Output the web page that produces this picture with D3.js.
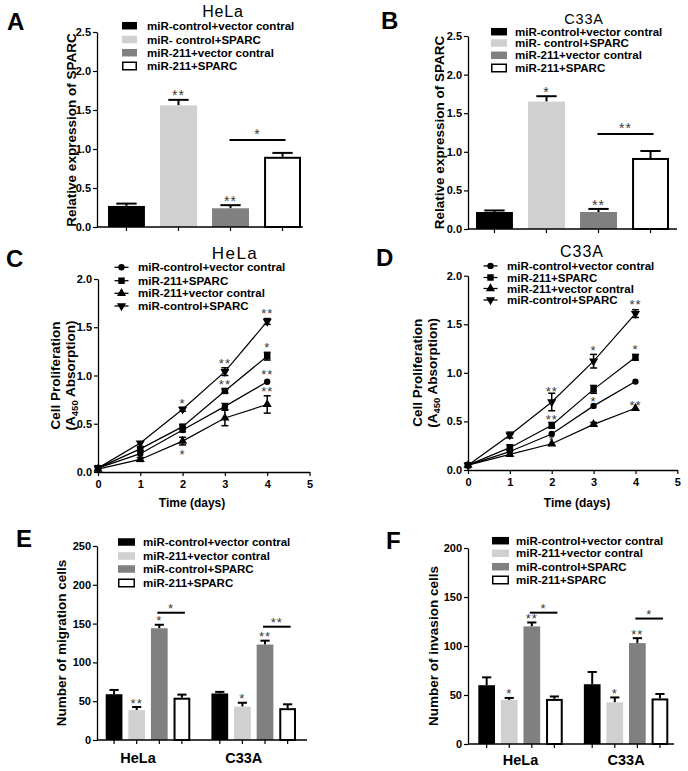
<!DOCTYPE html>
<html>
<head>
<meta charset="utf-8">
<script src="https://cdn.jsdelivr.net/npm/d3@7"></script>
<style>
  body { margin: 0; background: #fff; }
  svg text { font-family: "Liberation Sans", Arial, sans-serif; }
</style>
</head>
<body>
<svg id="fig" width="688" height="771"></svg>
<script>
// ---- data ----
// A / B : relative SPARC expression
const expLabels = ["miR-control+vector contral", "miR- control+SPARC", "miR-211+vector contral", "miR-211+SPARC"];
const helaExp = [0.27, 1.56, 0.24, 0.90];
const helaExpErr = [0.03, 0.07, 0.04, 0.05];
const helaExpStars = ["", "**", "**", ""];
const helaExpBracket = [1.115, "*"];
const c33aExp = [0.22, 1.65, 0.22, 0.92];
const c33aExpErr = [0.02, 0.07, 0.04, 0.09];
const c33aExpStars = ["", "*", "**", ""];
const c33aExpBracket = [1.23, "**"];

// C / D : proliferation curves
const days = [0, 1, 2, 3, 4];
const dayTicks = [0, 1, 2, 3, 4, 5];
const prolifLabels = ["miR-control+vector contral", "miR-211+SPARC", "miR-211+vector contral", "miR-control+SPARC"];
const helaProlif = [
  [0.04, 0.19, 0.435, 0.68, 0.935],
  [0.04, 0.24, 0.47, 0.84, 1.20],
  [0.03, 0.13, 0.32, 0.56, 0.70],
  [0.04, 0.30, 0.65, 1.04, 1.56]
];
const helaProlifErr = [
  [0.01, 0.01, 0.02, 0.03, 0.01],
  [0.01, 0.02, 0.02, 0.02, 0.04],
  [0.01, 0.02, 0.04, 0.08, 0.09],
  [0.01, 0.01, 0.02, 0.04, 0.03]
];
const helaProlifStars = [[2, 0.746, "*"], [2, 0.21, "*"], [3, 1.16, "**"], [3, 0.943, "**"],
  [4, 1.67, "**"], [4, 1.326, "*"], [4, 1.04, "**"], [4, 0.87, "**"]];
const c33aProlif = [
  [0.05, 0.19, 0.37, 0.66, 0.91],
  [0.05, 0.23, 0.46, 0.83, 1.16],
  [0.05, 0.16, 0.27, 0.47, 0.635],
  [0.05, 0.36, 0.70, 1.12, 1.61]
];
const c33aProlifErr = [
  [0.01, 0.01, 0.01, 0.01, 0.01],
  [0.01, 0.03, 0.03, 0.04, 0.03],
  [0.01, 0.01, 0.01, 0.02, 0.01],
  [0.01, 0.03, 0.09, 0.07, 0.04]
];
const c33aProlifStars = [[2, 0.84, "**"], [2, 0.55, "**"], [2, 0.33, "*"], [3, 1.26, "*"], [3, 0.74, "*"],
  [4, 1.735, "**"], [4, 1.27, "*"], [4, 0.70, "**"]];

// E / F : migration and invasion
const cellLines = ["HeLa", "C33A"];
const transLabels = ["miR-control+vector contral", "miR-211+vector contral", "miR-control+SPARC", "miR-211+SPARC"];
const migration = [[59, 38.5, 144, 54.5], [60, 43, 123, 41]];
const migrationErr = [[5.5, 4, 4.5, 4], [2, 5, 5, 5]];
const migrationStars = [["", "**", "*", ""], ["", "*", "**", ""]];
const migrationBrackets = [[164, "*"], [146, "**"]];
const invasion = [[60, 45, 120, 46], [61, 42.5, 103, 46.5]];
const invasionErr = [[8, 2, 4, 2.5], [12.5, 5, 5, 4.5]];
const invasionStars = [["", "*", "**", ""], ["", "*", "**", ""]];
const invasionBrackets = [[134, "*"], [128, "*"]];

// ---- drawing ----
const svg = d3.select("#fig");
svg.append("rect").attr("width", 688).attr("height", 771).attr("fill", "#fff");

const fills = ["#000000", "#d0d0d0", "#808080", "#ffffff"];
const STAR = "#3a3a3a";

function styleAxis(a) {
  a.select(".domain").attr("stroke", "#000").attr("stroke-width", 1.3);
  a.selectAll(".tick line").attr("stroke", "#000").attr("stroke-width", 1.2);
  a.selectAll(".tick text").attr("fill", "#000").attr("font-size", 11).attr("font-weight", "bold")
    .style("font-family", "'Liberation Sans', Arial, sans-serif");
}

function letter(t, x, y) {
  svg.append("text").attr("x", x).attr("y", y).attr("font-size", 24).attr("font-weight", "bold").text(t);
}

function title(t, x, y, size, spacing) {
  svg.append("text").attr("x", x).attr("y", y).attr("text-anchor", "middle")
    .attr("font-size", size).attr("letter-spacing", spacing).text(t);
}

function yTitle(t, x, yc) {
  svg.append("text").attr("transform", `translate(${x},${yc}) rotate(-90)`)
    .attr("text-anchor", "middle").attr("font-size", 13.5).attr("font-weight", "bold").text(t);
}

function star(g, t, x, yc, size) {
  g.append("text").attr("x", x).attr("y", yc + size * 0.58).attr("text-anchor", "middle")
    .attr("font-size", size).attr("letter-spacing", 1).attr("fill", STAR).text(t);
}

function barLegend(labels, x, tx, rows, w) {
  labels.forEach((l, i) => {
    svg.append("rect").attr("x", x + (i === 3 ? 0.75 : 0)).attr("y", rows[i] - 3.75)
      .attr("width", w - (i === 3 ? 1.5 : 0)).attr("height", 7.5)
      .attr("fill", fills[i]).attr("stroke", i === 3 ? "#000" : "none").attr("stroke-width", 1.5);
    svg.append("text").attr("x", tx).attr("y", rows[i] + 4).attr("font-size", 11.5)
      .attr("font-weight", "bold").text(l);
  });
}

function drawBar(g, x, w, v, e, i, y, capW) {
  const cx = x + w / 2;
  g.append("line").attr("x1", cx).attr("x2", cx).attr("y1", y(v)).attr("y2", y(v + e))
    .attr("stroke", "#000").attr("stroke-width", 2);
  g.append("line").attr("x1", cx - capW / 2).attr("x2", cx + capW / 2).attr("y1", y(v + e)).attr("y2", y(v + e))
    .attr("stroke", "#000").attr("stroke-width", 2);
  if (i === 3) {
    g.append("rect").attr("x", x + 1).attr("y", y(v) + 1).attr("width", w - 2).attr("height", y(0) - y(v) - 1)
      .attr("fill", "#fff").attr("stroke", "#000").attr("stroke-width", 2);
  } else {
    g.append("rect").attr("x", x).attr("y", y(v)).attr("width", w).attr("height", y(0) - y(v))
      .attr("fill", fills[i]);
  }
}

function exprPanel(p) {
  const g = svg.append("g");
  const y = d3.scaleLinear().domain([0, 2.5]).range([p.y0, p.y1]);
  const x = d3.scaleBand().domain(d3.range(p.values.length)).range([p.bx0, p.bx1]).paddingInner(0.29);
  p.values.forEach((v, i) => drawBar(g, x(i), x.bandwidth(), v, p.err[i], i, y, x.bandwidth() * 0.55));
  g.append("g").attr("transform", `translate(${p.ax0},0)`)
    .call(d3.axisLeft(y).tickValues([0, 0.5, 1, 1.5, 2, 2.5]).tickFormat(d3.format(".1f")).tickSize(4).tickSizeOuter(0).tickPadding(2))
    .call(styleAxis);
  g.append("g").attr("transform", `translate(0,${y(0)})`)
    .call(d3.axisBottom(x).tickSize(4).tickFormat(""))
    .call(a => a.select(".domain").remove()).call(styleAxis);
  g.append("line").attr("x1", p.ax0).attr("x2", p.ax1).attr("y1", y(0)).attr("y2", y(0))
    .attr("stroke", "#000").attr("stroke-width", 1.3);
  p.stars.forEach((s, i) => {
    if (s) star(g, s, x(i) + x.bandwidth() / 2, y(p.values[i] + p.err[i]) - 7.5, 14);
  });
  const bx1 = x(2) + x.bandwidth() / 2 - 1, bx2 = x(3) + x.bandwidth() / 2 + 3;
  g.append("line").attr("x1", bx1).attr("x2", bx2).attr("y1", y(p.bracket[0])).attr("y2", y(p.bracket[0]))
    .attr("stroke", "#000").attr("stroke-width", 2);
  star(g, p.bracket[1], (bx1 + bx2) / 2, y(p.bracket[0]) - 9, 14);
}

const symbolTypes = [d3.symbolCircle, d3.symbolSquare, d3.symbolTriangle, d3.symbolTriangle];
const symbolSizes = [32, 42, 36, 36];

function marker(g, k, cx, cy) {
  g.append("path").attr("d", d3.symbol(symbolTypes[k], symbolSizes[k])())
    .attr("transform", `translate(${cx},${cy})` + (k === 3 ? " rotate(180)" : ""))
    .attr("fill", "#000");
}

function prolifPanel(p) {
  const g = svg.append("g");
  const x = d3.scaleLinear().domain([0, 5]).range([p.x0, p.x1]);
  const y = d3.scaleLinear().domain([0, 2]).range([p.y0, p.y1]);
  g.append("g").attr("transform", `translate(${x(0)},0)`)
    .call(d3.axisLeft(y).tickValues([0, 0.5, 1, 1.5, 2]).tickFormat(d3.format(".1f")).tickSize(4).tickSizeOuter(0).tickPadding(2))
    .call(styleAxis);
  g.append("g").attr("transform", `translate(0,${y(0)})`)
    .call(d3.axisBottom(x).tickValues(dayTicks).tickFormat(d3.format("d")).tickSize(4).tickSizeOuter(0).tickPadding(4))
    .call(styleAxis);
  const line = d3.line().x((d, i) => x(days[i])).y(d => y(d));
  p.series.forEach((s, k) => {
    g.append("path").attr("d", line(s)).attr("fill", "none").attr("stroke", "#000").attr("stroke-width", 1.2);
  });
  p.series.forEach((s, k) => {
    s.forEach((v, i) => {
      const e = p.err[k][i], cx = x(days[i]);
      if (e > 0.015) {
        g.append("line").attr("x1", cx).attr("x2", cx).attr("y1", y(v - e)).attr("y2", y(v + e))
          .attr("stroke", "#000").attr("stroke-width", 1.5);
        [v - e, v + e].forEach(t => g.append("line").attr("x1", cx - 3.5).attr("x2", cx + 3.5)
          .attr("y1", y(t)).attr("y2", y(t)).attr("stroke", "#000").attr("stroke-width", 1.5));
      }
      marker(g, k, cx, y(v));
    });
  });
  p.stars.forEach(s => star(g, s[2], x(s[0]), y(s[1]), 13));
  // legend
  prolifLabels.forEach((l, k) => {
    const ry = p.rows[k];
    g.append("line").attr("x1", p.lx).attr("x2", p.lx + 14).attr("y1", ry).attr("y2", ry)
      .attr("stroke", "#000").attr("stroke-width", 1.3);
    marker(g, k, p.lx + 7, ry);
    g.append("text").attr("x", p.tx).attr("y", ry + 4).attr("font-size", 11.5).attr("font-weight", "bold").text(l);
  });
  svg.append("text").attr("x", p.timeX).attr("y", 507).attr("text-anchor", "middle")
    .attr("font-size", 12).attr("font-weight", "bold").text("Time (days)");
  // two-line y title with subscript
  const tt = svg.append("g").attr("transform", `translate(${p.tX},${(p.y0 + p.y1) / 2}) rotate(-90)`);
  tt.append("text").attr("text-anchor", "middle").attr("font-size", 13.5).attr("font-weight", "bold")
    .text("Cell Proliferation");
  const t2 = tt.append("text").attr("y", 14.5).attr("text-anchor", "middle").attr("font-size", 13.5).attr("font-weight", "bold");
  t2.append("tspan").text("(A");
  t2.append("tspan").attr("font-size", 9.5).attr("dy", 3).text("450");
  t2.append("tspan").attr("dy", -3).text(" Absorption)");
}

function groupPanel(p) {
  const g = svg.append("g");
  const y = d3.scaleLinear().domain([0, p.yMax]).range([p.y0, p.y1]);
  const x0 = d3.scaleBand().domain(cellLines).range([p.bx0, p.bx1]).paddingInner(0.2);
  const x1 = d3.scaleBand().domain(d3.range(4)).range([0, x0.bandwidth()]).paddingInner(0.26);
  const centers = [];
  cellLines.forEach((c, gi) => {
    p.values[gi].forEach((v, i) => {
      const bx = x0(c) + x1(i);
      centers.push(bx + x1.bandwidth() / 2);
      drawBar(g, bx, x1.bandwidth(), v, p.err[gi][i], i, y, x1.bandwidth() * 0.55);
      if (p.stars[gi][i]) star(g, p.stars[gi][i], bx + x1.bandwidth() / 2, y(v + p.err[gi][i]) - 7, 13);
    });
    const b1 = x0(c) + x1(2) + x1.bandwidth() / 2 - 2, b2 = x0(c) + x1(3) + x1.bandwidth() / 2 + 3;
    const by = y(p.brackets[gi][0]);
    g.append("line").attr("x1", b1).attr("x2", b2).attr("y1", by).attr("y2", by)
      .attr("stroke", "#000").attr("stroke-width", 2);
    star(g, p.brackets[gi][1], (b1 + b2) / 2, by - 7.5, 13);
    g.append("text").attr("x", x0(c) + x0.bandwidth() / 2 + p.labelDx).attr("y", p.labelY)
      .attr("text-anchor", "middle").attr("font-size", 14.5).attr("font-weight", "bold").text(c);
  });
  g.append("g").attr("transform", `translate(${p.ax0},0)`)
    .call(d3.axisLeft(y).ticks(p.yMax / 50).tickFormat(d3.format("d")).tickSize(4).tickSizeOuter(0).tickPadding(2))
    .call(styleAxis);
  g.append("line").attr("x1", p.ax0).attr("x2", p.ax1).attr("y1", y(0)).attr("y2", y(0))
    .attr("stroke", "#000").attr("stroke-width", 1.3);
  g.selectAll("line.xt").data(centers).join("line").attr("class", "xt")
    .attr("x1", d => d).attr("x2", d => d).attr("y1", y(0)).attr("y2", y(0) + 4)
    .attr("stroke", "#000").attr("stroke-width", 1.2);
}

// A
letter("A", 7, 30);
title("HeLa", 223, 17, 16, 0.8);
exprPanel({ values: helaExp, err: helaExpErr, stars: helaExpStars, bracket: helaExpBracket,
  y0: 227, y1: 32, bx0: 108, bx1: 301, ax0: 97, ax1: 303 });
barLegend(expLabels, 122, 147, [25.7, 39.5, 52.7, 66], 15);
yTitle("Relative expression of SPARC", 76, 130);

// B
letter("B", 381, 29);
title("C33A", 584, 23.5, 14.5, 0.8);
exprPanel({ values: c33aExp, err: c33aExpErr, stars: c33aExpStars, bracket: c33aExpBracket,
  y0: 229, y1: 36, bx0: 476, bx1: 669, ax0: 468, ax1: 677 });
barLegend(expLabels, 491, 515, [31.7, 43, 55.3, 68], 16);
yTitle("Relative expression of SPARC", 444, 132.5);

// C
letter("C", 6, 267);
title("HeLa", 235, 258.5, 17, 1.5);
prolifPanel({ series: helaProlif, err: helaProlifErr, stars: helaProlifStars,
  x0: 98, x1: 309.5, y0: 472, y1: 279, lx: 114.5, tx: 138, rows: [267.3, 280.7, 293.3, 306],
  timeX: 192, tX: 60 });

// D
letter("D", 376, 266);
title("C33A", 582, 257.3, 16, 1);
prolifPanel({ series: c33aProlif, err: c33aProlifErr, stars: c33aProlifStars,
  x0: 468, x1: 677.3, y0: 470, y1: 275.7, lx: 483.5, tx: 507, rows: [265.9, 277.5, 288.5, 300],
  timeX: 577, tX: 422 });

// E
letter("E", 16, 547);
groupPanel({ values: migration, err: migrationErr, stars: migrationStars, brackets: migrationBrackets,
  yMax: 250, y0: 740, y1: 546, bx0: 105.7, bx1: 296, ax0: 97, ax1: 307, labelDx: -10, labelY: 763 });
barLegend(transLabels, 118, 143, [542, 556, 569, 583], 17);
yTitle("Number of migration cells", 66, 643);

// F
letter("F", 386, 549);
groupPanel({ values: invasion, err: invasionErr, stars: invasionStars, brackets: invasionBrackets,
  yMax: 200, y0: 744, y1: 548, bx0: 478.3, bx1: 668.3, ax0: 468, ax1: 674, labelDx: 0, labelY: 765 });
barLegend(transLabels, 492, 516, [540.7, 553.3, 566.7, 580], 17);
yTitle("Number of invasion cells", 438, 646);
</script>
</body>
</html>
